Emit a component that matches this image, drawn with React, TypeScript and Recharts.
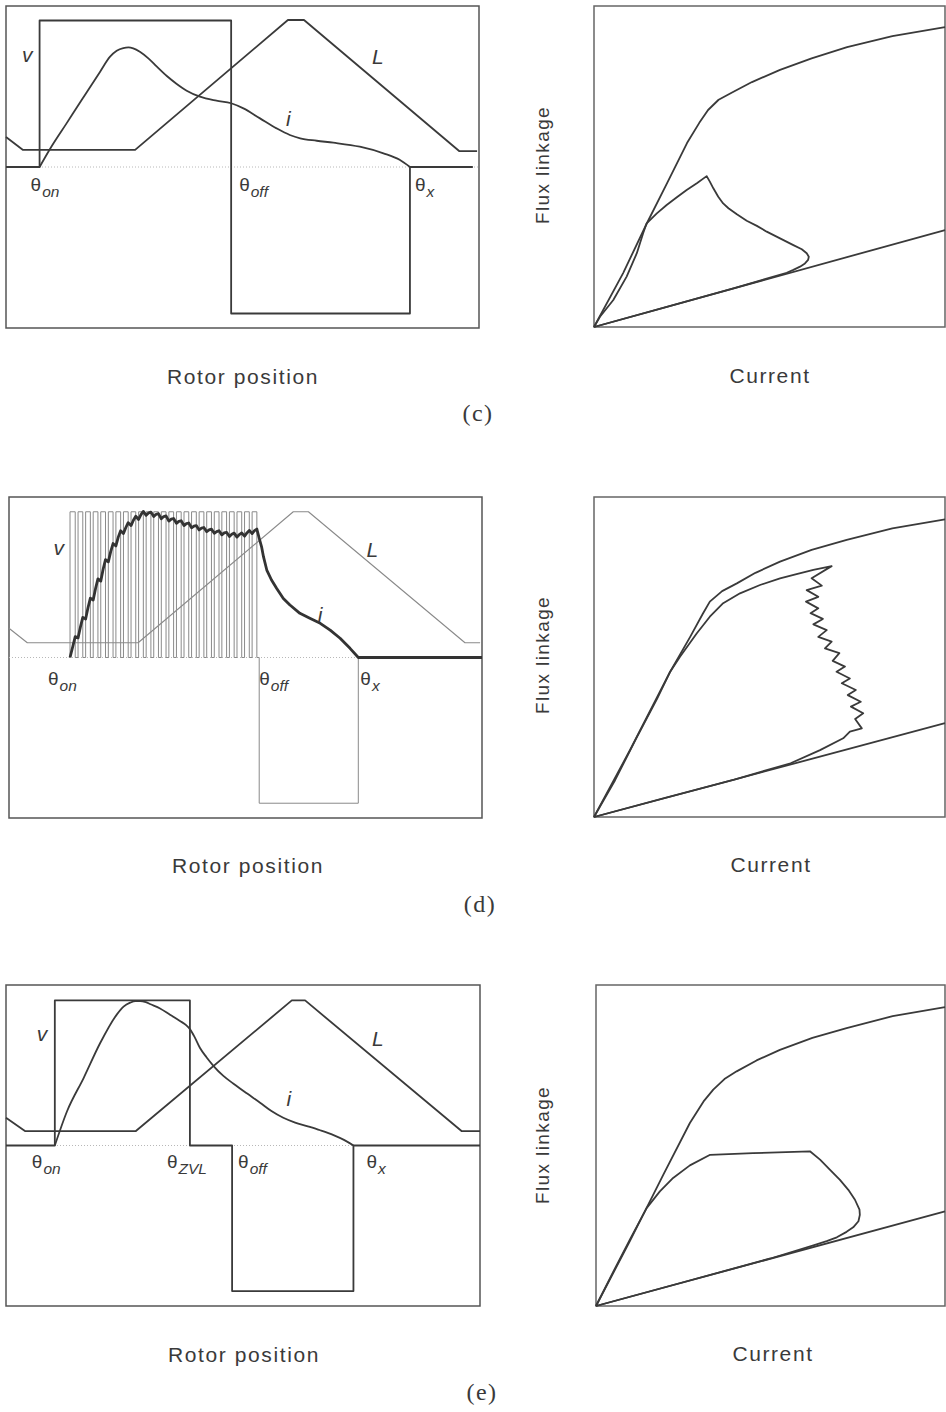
import React from 'react';
import {
  LineChart,
  Line,
  XAxis,
  YAxis,
  ReferenceArea,
  ReferenceLine,
  ReferenceDot,
} from 'recharts';

type XY = [number, number];

const SANS = '"Liberation Sans", Arial, Helvetica, sans-serif';
const SERIF = '"Liberation Serif", "Times New Roman", serif';
const INK = '#3a3a3a';
const FAINT = '#8a8a8a';

// ---------- (c) single-pulse operation ----------
const cAngles = { on: 7.1, off: 47.6, x: 85.4, end: 98.7 };
const cVLevel = [0.91, -0.91];
const cInductance: XY[] = [
  [0, 0.186], [3.6, 0.106], [27.3, 0.106], [59.6, 0.913], [63.0, 0.913], [95.8, 0.099], [99.6, 0.099],
];
const cCurrent: XY[] = [
  [7.1, 0], [9.3, 0.112], [12.8, 0.271], [16.3, 0.43], [19.9, 0.592], [22.0, 0.685], [23.4, 0.722],
  [24.8, 0.739], [25.9, 0.743], [26.9, 0.737], [28.3, 0.716], [30.1, 0.675], [31.9, 0.623],
  [34.0, 0.565], [36.1, 0.516], [38.2, 0.474], [41.0, 0.437], [44.5, 0.412], [47.6, 0.396],
  [50.2, 0.364], [53.7, 0.302], [57.2, 0.24], [60.0, 0.199], [62.2, 0.178], [65.7, 0.163],
  [69.2, 0.151], [74.8, 0.126], [79.8, 0.085], [83.3, 0.043], [85.4, 0],
];
const cAligned: XY[] = [
  [0, 0], [8.3, 16.8], [15.1, 32.4], [21, 45.2], [26.5, 57.3], [30, 63.6], [32.5, 67.6], [35.5, 70.8],
  [39.6, 73.2], [45, 76.3], [53, 80.1], [62, 83.7], [72.1, 87.2], [85, 90.6], [100, 93.4],
];
const cUnaligned: XY[] = [[0, 0], [100, 30.2]];
const cLoop: XY[] = [
  [0, 0], [1.7, 3.2], [5.5, 8.4], [9.3, 15.7], [12.2, 23.0], [14.0, 29.2], [15.0, 32.3],
  [17.9, 35.4], [20.7, 38.0], [23.6, 40.4], [26.4, 42.7], [29.3, 44.8], [32.1, 47.0],
  [33.0, 45.3], [34.0, 43.2], [35.4, 40.6], [36.8, 38.5], [38.3, 37.0], [40.7, 35.1], [43.5, 33.1],
  [46.4, 31.5], [49.2, 29.7], [53.0, 27.6], [56.8, 25.5], [59.2, 24.2], [60.6, 23.0], [61.2, 21.9],
  [61.0, 20.9], [60.1, 19.8], [58.7, 18.8], [56.8, 17.8], [54.9, 16.9], [40, 12.1], [20, 6.0], [0, 0],
];

// ---------- (d) chopping (PWM) operation ----------
const dAngles = { on: 12.9, off: 52.9, x: 73.85 };
const dVLevel = [0.908, -0.908];
const dPwmEdges: XY[] = [
  [12.9, 14.0], [14.6, 15.6], [16.2, 17.2], [17.8, 18.8], [19.4, 20.4], [21.0, 22.0], [22.6, 23.6],
  [24.2, 25.2], [25.8, 26.8], [27.4, 28.4], [29.0, 30.0], [30.6, 31.6], [32.2, 33.2], [33.8, 34.8],
  [35.4, 36.4], [37.0, 38.0], [38.6, 39.6], [40.2, 41.2], [41.8, 42.8], [43.4, 44.4], [45.0, 46.0],
  [46.6, 47.6], [48.2, 49.2], [49.8, 50.8], [51.4, 52.4],
];
const dInductance: XY[] = [
  [0, 0.182], [3.87, 0.092], [27.3, 0.092], [60.1, 0.908], [63.3, 0.908], [96.4, 0.092], [99.6, 0.092],
];
// current ripple: rises while a pulse is on, sags while it is off
const dCurrent: XY[] = [
  [12.9, 0], [13.5, 0.07], [14.0, 0.13], [14.6, 0.122], [15.1, 0.19], [15.6, 0.25], [16.2, 0.24],
  [16.7, 0.31], [17.2, 0.37], [17.8, 0.358], [18.3, 0.43], [18.8, 0.49], [19.4, 0.476], [19.9, 0.55],
  [20.4, 0.61], [21.0, 0.596], [21.5, 0.66], [22.0, 0.71], [22.6, 0.695], [23.1, 0.75], [23.6, 0.79],
  [24.2, 0.772], [24.7, 0.81], [25.2, 0.84], [25.8, 0.822], [26.3, 0.855], [26.8, 0.88], [27.4, 0.86],
  [27.9, 0.89], [28.4, 0.91], [29.0, 0.886], [29.5, 0.9], [30.0, 0.906], [30.6, 0.878], [31.1, 0.892],
  [31.6, 0.896], [32.2, 0.864], [32.7, 0.878], [33.2, 0.882], [33.8, 0.85], [34.3, 0.862],
  [34.8, 0.866], [35.4, 0.836], [35.9, 0.848], [36.4, 0.852], [37.0, 0.822], [37.5, 0.834],
  [38.0, 0.838], [38.6, 0.808], [39.1, 0.818], [39.6, 0.822], [40.2, 0.795], [40.7, 0.806],
  [41.2, 0.81], [41.8, 0.784], [42.3, 0.795], [42.8, 0.8], [43.4, 0.774], [43.9, 0.784],
  [44.4, 0.79], [45.0, 0.764], [45.5, 0.776], [46.0, 0.78], [46.6, 0.754], [47.1, 0.768],
  [47.6, 0.775], [48.2, 0.75], [48.7, 0.766], [49.2, 0.776], [49.8, 0.756], [50.3, 0.776],
  [50.8, 0.792], [51.4, 0.772], [51.9, 0.79], [52.4, 0.8], [52.9, 0.743], [53.4, 0.69],
  [53.8, 0.628], [54.5, 0.545], [55.5, 0.483], [56.6, 0.43], [58.0, 0.368], [59.4, 0.327],
  [61.5, 0.275], [63.6, 0.244], [65.8, 0.213], [67.9, 0.171], [70.0, 0.12], [72.1, 0.057],
  [73.85, 0], [100, 0],
];
const dAligned: XY[] = [
  [0, 0], [10.3, 21], [21.7, 45.4], [27.4, 56.3], [31, 63.5], [33.0, 67.3], [36.5, 70.6], [40.7, 73.0],
  [46, 76.3], [53.0, 79.8], [62, 83.5], [72.0, 86.6], [85, 90.2], [100, 93.0],
];
const dUnaligned: XY[] = [[0, 0], [100, 29.3]];
const dLoop: XY[] = [
  [0, 0], [6, 11.5], [12, 24.5], [18, 37], [21.7, 45.4], [24.5, 50.1], [29.3, 57.4], [33.0, 62.6],
  [36.8, 66.8], [41.6, 69.9], [47.3, 72.5], [53.0, 74.6], [57.7, 75.9], [62.5, 77.2], [67.7, 78.4],
  [62.0, 74.6], [64.9, 72.3], [60.6, 70.9], [63.9, 68.8], [60.4, 67.3], [63.9, 65.2], [61.7, 63.7],
  [65.2, 61.9], [62.5, 60.2], [66.3, 58.4], [63.9, 56.3], [67.7, 54.8], [65.8, 52.7], [69.9, 51.2],
  [68.0, 48.8], [71.5, 47.0], [69.1, 45.4], [72.9, 43.3], [70.6, 41.8], [74.6, 39.7], [72.3, 38.1],
  [76.0, 36.0], [73.2, 34.5], [76.7, 32.4], [74.4, 30.6], [76.3, 27.7], [72.9, 26.7], [71.0, 24.6],
  [64.4, 20.9], [56, 16.8], [40, 11.7], [20, 5.9], [0, 0],
];

// ---------- (e) zero-volt loop operation ----------
const eAngles = { on: 10.3, zvl: 38.8, off: 47.7, x: 73.3, end: 100 };
const eVLevel = [0.904, -0.907];
const eInductance: XY[] = [
  [0, 0.173], [4.0, 0.09], [27.4, 0.09], [60.3, 0.904], [63.1, 0.904], [96.1, 0.09], [100, 0.09],
];
const eCurrent: XY[] = [
  [10.3, 0], [12.9, 0.215], [16.4, 0.422], [19.9, 0.64], [23.4, 0.817], [24.8, 0.865], [26.2, 0.89],
  [27.3, 0.9], [28.3, 0.9], [29.5, 0.893], [30.5, 0.88], [32.5, 0.854], [34.6, 0.815], [36.7, 0.776],
  [38.0, 0.75], [38.8, 0.725], [39.8, 0.675], [40.9, 0.609], [42.3, 0.55], [43.8, 0.495],
  [45.8, 0.435], [48.0, 0.385], [50.8, 0.325], [53.6, 0.267], [56, 0.215], [58.5, 0.173],
  [61, 0.143], [63.5, 0.121], [66.3, 0.095], [69.1, 0.065], [71.3, 0.035], [73.3, 0],
];
const eAligned: XY[] = [
  [0, 0], [9.7, 20.2], [19.3, 40.9], [26.9, 57.0], [31, 64], [33.6, 67.4], [36.8, 70.7], [40.3, 73.1],
  [46, 76.5], [52.7, 79.8], [62, 83.5], [71.8, 86.6], [85, 90.3], [100, 93.1],
];
const eUnaligned: XY[] = [[0, 0], [100, 29.5]];
const eLoop: XY[] = [
  [0, 0], [5.0, 10.8], [9.7, 20.7], [14.5, 30.5], [18.3, 35.7], [22.1, 39.9], [26.9, 43.8],
  [32.7, 47.1], [45, 47.6], [61.3, 48.2], [64.2, 45.6], [67.0, 42.5], [69.9, 39.3], [72.3, 36.2],
  [74.2, 33.1], [75.5, 30.0], [75.6, 28.4], [75.2, 26.4], [73.7, 24.5], [71.8, 23.1], [69.0, 21.4],
  [66.1, 20.2], [62.3, 18.9], [50, 14.8], [25, 7.4], [0, 0],
];

// ---------- helpers ----------
const toPoints = (d: XY[]) => d.map(([x, y]) => ({ x, y }));

const singlePulse = (on: number, off: number, ext: number, end: number, hi: number, lo: number): XY[] => [
  [0, 0], [on, 0], [on, hi], [off, hi], [off, lo], [ext, lo], [ext, 0], [end, 0],
];

const chopped = (edges: XY[], off: number, ext: number, hi: number, lo: number): XY[] => {
  const out: XY[] = [];
  edges.forEach(([a, b]) => {
    out.push([a, 0], [a, hi], [b, hi], [b, 0]);
  });
  out.push([off, 0], [off, lo], [ext, lo], [ext, 0]);
  return out;
};

const zeroVoltLoop = (a: typeof eAngles, hi: number, lo: number): XY[] => [
  [0, 0], [a.on, 0], [a.on, hi], [a.zvl, hi], [a.zvl, 0], [a.off, 0], [a.off, lo],
  [a.x, lo], [a.x, 0], [a.end, 0],
];

type Series = { data: XY[]; stroke?: string; width?: number; curve?: 'linear' | 'monotone' };
type Mark = { x: number; y: number; sub?: string; text?: string; dx: number; dy: number };
type Box = { left: number; top: number; width: number; height: number };

const thetaShape = (m: Mark) => (p: any) => (
  <text x={p.cx + m.dx} y={p.cy + m.dy} fill={INK} fontFamily={SANS} fontSize={19}>
    θ
    <tspan fontSize={15.5} fontStyle="italic" dx={1} dy={6}>
      {m.sub}
    </tspan>
  </text>
);

const noteShape = (m: Mark) => (p: any) => (
  <text x={p.cx + m.dx} y={p.cy + m.dy} fill={INK} fontFamily={SANS} fontSize={21} fontStyle="italic">
    {m.text}
  </text>
);

function Panel({
  box,
  yDomain,
  series,
  zeroLine,
  marks = [],
  frame = '#555',
}: {
  box: Box;
  yDomain: [number, number];
  series: Series[];
  zeroLine?: boolean;
  marks?: Mark[];
  frame?: string;
}) {
  const pad = 4;
  return (
    <div style={{ position: 'absolute', left: box.left - pad, top: box.top - pad }}>
      <LineChart
        width={box.width + pad * 2}
        height={box.height + pad * 2}
        margin={{ top: pad, right: pad, bottom: pad, left: pad }}
      >
        <XAxis type="number" dataKey="x" domain={[0, 100]} hide />
        <YAxis type="number" dataKey="y" domain={yDomain} hide />
        <ReferenceArea
          x1={0}
          x2={100}
          y1={yDomain[0]}
          y2={yDomain[1]}
          fill="none"
          fillOpacity={0}
          stroke={frame}
          strokeWidth={1.5}
          ifOverflow="visible"
        />
        {zeroLine && (
          <ReferenceLine y={0} stroke="#b8b8b8" strokeDasharray="1 2" strokeWidth={1} ifOverflow="visible" />
        )}
        {series.map((s, i) => (
          <Line
            key={i}
            data={toPoints(s.data)}
            dataKey="y"
            type={s.curve ?? 'linear'}
            stroke={s.stroke ?? INK}
            strokeWidth={s.width ?? 1.8}
            strokeLinejoin="round"
            dot={false}
            activeDot={false}
            isAnimationActive={false}
          />
        ))}
        {marks.map((m, i) => (
          <ReferenceDot
            key={`m${i}`}
            x={m.x}
            y={m.y}
            r={0}
            ifOverflow="visible"
            shape={m.sub ? thetaShape(m) : noteShape(m)}
          />
        ))}
      </LineChart>
    </div>
  );
}

const cMarks: Mark[] = [
  { x: cAngles.on, y: 0, sub: 'on', dx: -9, dy: 24 },
  { x: cAngles.off, y: 0, sub: 'off', dx: 8, dy: 24 },
  { x: cAngles.x, y: 0, sub: 'x', dx: 5, dy: 24 },
  { x: 3.4, y: 0.652, text: 'v', dx: 0, dy: 0 },
  { x: 77.4, y: 0.64, text: 'L', dx: 0, dy: 0 },
  { x: 59.2, y: 0.255, text: 'i', dx: 0, dy: 0 },
];
const dMarks: Mark[] = [
  { x: dAngles.on, y: 0, sub: 'on', dx: -22, dy: 27 },
  { x: dAngles.off, y: 0, sub: 'off', dx: 0, dy: 27 },
  { x: dAngles.x, y: 0, sub: 'x', dx: 2, dy: 27 },
  { x: 9.4, y: 0.639, text: 'v', dx: 0, dy: 0 },
  { x: 75.6, y: 0.628, text: 'L', dx: 0, dy: 0 },
  { x: 65.3, y: 0.223, text: 'i', dx: 0, dy: 0 },
];
const eMarks: Mark[] = [
  { x: eAngles.on, y: 0, sub: 'on', dx: -23, dy: 22 },
  { x: eAngles.zvl, y: 0, sub: 'ZVL', dx: -23, dy: 22 },
  { x: eAngles.off, y: 0, sub: 'off', dx: 6, dy: 22 },
  { x: eAngles.x, y: 0, sub: 'x', dx: 13, dy: 22 },
  { x: 6.5, y: 0.651, text: 'v', dx: 0, dy: 0 },
  { x: 77.2, y: 0.622, text: 'L', dx: 0, dy: 0 },
  { x: 59.2, y: 0.248, text: 'i', dx: 0, dy: 0 },
];

const captions = [
  { rotorX: 243, currentX: 770, axisY: 384, fluxY: 165, tag: '(c)', tagX: 478, tagY: 421 },
  { rotorX: 248, currentX: 771, axisY: 873, fluxY: 655, tag: '(d)', tagX: 480, tagY: 912 },
  { rotorX: 244, currentX: 773, axisY: 1362, fluxY: 1145, tag: '(e)', tagX: 482, tagY: 1400 },
];

export default function App() {
  return (
    <div
      style={{
        position: 'absolute',
        left: 0,
        top: 0,
        width: 946,
        height: 1412,
        overflow: 'hidden',
        background: '#fff',
      }}
    >
      {/* (c) */}
      <Panel
        box={{ left: 6, top: 6, width: 473, height: 322 }}
        yDomain={[-1, 1]}
        zeroLine
        series={[
          { data: cInductance },
          { data: singlePulse(cAngles.on, cAngles.off, cAngles.x, cAngles.end, cVLevel[0], cVLevel[1]) },
          { data: cCurrent, curve: 'monotone' },
        ]}
        marks={cMarks}
      />
      <Panel
        box={{ left: 594, top: 6, width: 351, height: 321 }}
        yDomain={[0, 100]}
        frame="#666"
        series={[{ data: cAligned }, { data: cUnaligned }, { data: cLoop }]}
      />

      {/* (d) */}
      <Panel
        box={{ left: 9, top: 497, width: 473, height: 321 }}
        yDomain={[-1, 1]}
        zeroLine
        series={[
          { data: dInductance, stroke: FAINT, width: 1.1 },
          { data: chopped(dPwmEdges, dAngles.off, dAngles.x, dVLevel[0], dVLevel[1]), stroke: FAINT, width: 1 },
          { data: dCurrent, width: 2.8, stroke: '#333' },
        ]}
        marks={dMarks}
      />
      <Panel
        box={{ left: 594, top: 497, width: 351, height: 320 }}
        yDomain={[0, 100]}
        frame="#666"
        series={[{ data: dAligned }, { data: dUnaligned }, { data: dLoop }]}
      />

      {/* (e) */}
      <Panel
        box={{ left: 6, top: 985, width: 474, height: 321 }}
        yDomain={[-1, 1]}
        zeroLine
        series={[
          { data: eInductance },
          { data: zeroVoltLoop(eAngles, eVLevel[0], eVLevel[1]) },
          { data: eCurrent, curve: 'monotone' },
        ]}
        marks={eMarks}
      />
      <Panel
        box={{ left: 596, top: 985, width: 349, height: 321 }}
        yDomain={[0, 100]}
        frame="#666"
        series={[{ data: eAligned }, { data: eUnaligned }, { data: eLoop }]}
      />

      <svg
        width={946}
        height={1412}
        style={{ position: 'absolute', left: 0, top: 0, pointerEvents: 'none' }}
      >
        {captions.map((c) => (
          <g key={c.tag} fill={INK}>
            <text x={c.rotorX} y={c.axisY} textAnchor="middle" fontFamily={SANS} fontSize={21} letterSpacing={1.6}>
              Rotor position
            </text>
            <text x={c.currentX} y={c.axisY - 1} textAnchor="middle" fontFamily={SANS} fontSize={21} letterSpacing={1.6}>
              Current
            </text>
            <text
              x={549}
              y={c.fluxY}
              textAnchor="middle"
              fontFamily={SANS}
              fontSize={19}
              letterSpacing={1.4}
              transform={`rotate(-90 549 ${c.fluxY})`}
            >
              Flux linkage
            </text>
            <text x={c.tagX} y={c.tagY} textAnchor="middle" fontFamily={SERIF} fontSize={24} letterSpacing={1.5}>
              {c.tag}
            </text>
          </g>
        ))}
      </svg>
    </div>
  );
}
